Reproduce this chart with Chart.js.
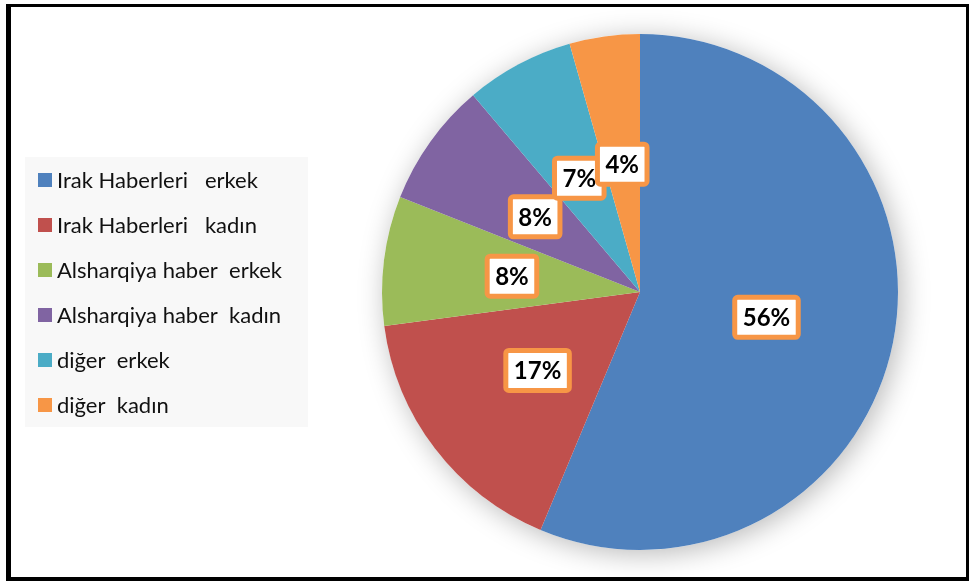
<!DOCTYPE html>
<html>
<head>
<meta charset="utf-8">
<script src="https://cdn.jsdelivr.net/npm/chart.js@4.4.1/dist/chart.umd.min.js"></script>
<style>
    html, body { margin: 0; padding: 0; background: #fff; }
    #wrap { position: relative; width: 969px; height: 581px; }
    #chart { position: absolute; left: 0; top: 0; }
    #frame {
        position: absolute; left: 6px; top: 4px; width: 963px; height: 577px;
        box-sizing: border-box; border-style: solid; border-color: #000;
        border-width: 3px 3px 4px 5px; pointer-events: none;
    }
</style>
</head>
<body>
<div id="wrap">
    <canvas id="chart" width="969" height="581"></canvas>
    <div id="frame"></div>
</div>
<script>
const categories = [
    'Irak Haberleri   erkek',
    'Irak Haberleri   kadın',
    'Alsharqiya haber  erkek',
    'Alsharqiya haber  kadın',
    'diğer  erkek',
    'diğer  kadın'
];
const shares = [56.3, 16.6, 8.1, 7.8, 6.8, 4.4];
const sliceColors = ['#4F81BD', '#C0504D', '#9BBB59', '#8064A2', '#4BACC6', '#F79646'];

// soft shadow under the pie
const pieShadow = {
    id: 'pieShadow',
    beforeDatasetsDraw(chart) {
        const arc = chart.getDatasetMeta(0).data[0];
        if (!arc) return;
        const ctx = chart.ctx;
        ctx.save();
        ctx.shadowColor = 'rgba(0,0,0,0.28)';
        ctx.shadowBlur = 28;
        ctx.shadowOffsetX = 4;
        ctx.shadowOffsetY = 4;
        ctx.beginPath();
        ctx.arc(arc.x, arc.y, arc.outerRadius, 0, Math.PI * 2);
        ctx.fillStyle = '#fff';
        ctx.fill();
        ctx.restore();
    }
};

// percent labels in orange framed boxes
const boxLabels = {
    id: 'boxLabels',
    afterDatasetsDraw(chart) {
        const ctx = chart.ctx;
        const data = chart.data.datasets[0].data;
        const total = data.reduce((a, b) => a + b, 0);
        ctx.save();
        ctx.font = 'bold 24px Lato';
        ctx.textAlign = 'center';
        ctx.textBaseline = 'middle';
        chart.getDatasetMeta(0).data.forEach((arc, i) => {
            const pos = arc.tooltipPosition(true);
            const text = Math.round(data[i] / total * 100) + '%';
            const w = ctx.measureText(text).width + 21;
            const h = 45;
            const x = pos.x - w / 2;
            const y = pos.y - h / 2;
            ctx.beginPath();
            ctx.roundRect(x + 2.5, y + 2.5, w - 5, h - 5, 3);
            ctx.fillStyle = '#fff';
            ctx.fill();
            ctx.lineWidth = 5;
            ctx.strokeStyle = '#F79646';
            ctx.stroke();
            ctx.fillStyle = '#000';
            ctx.fillText(text, pos.x, pos.y + 1);
        });
        ctx.restore();
    }
};

// legend panel on the left
const sideLegend = {
    id: 'sideLegend',
    afterDraw(chart) {
        const ctx = chart.ctx;
        const names = chart.data.labels;
        const fills = chart.data.datasets[0].backgroundColor;
        ctx.save();
        ctx.fillStyle = '#f8f8f8';
        ctx.fillRect(25, 157, 283, 270);
        ctx.font = '22px Lato';
        ctx.textBaseline = 'middle';
        names.forEach((name, i) => {
            const cy = 180 + i * 45;
            ctx.fillStyle = fills[i];
            ctx.fillRect(38, cy - 7, 14, 14);
            ctx.fillStyle = '#111';
            ctx.fillText(name, 57, cy + 1);
        });
        ctx.restore();
    }
};

document.addEventListener('DOMContentLoaded', () => {
    const chart = document.querySelector('#chart').getContext('2d');
    new Chart(chart, {
        type: 'pie',
        data: {
            labels: categories,
            datasets: [{
                data: shares,
                backgroundColor: sliceColors,
                borderWidth: 0
            }]
        },
        options: {
            responsive: false,
            animation: false,
            layout: {
                padding: { left: 382, right: 71, top: 34, bottom: 31 }
            },
            plugins: {
                legend: { display: false },
                tooltip: { enabled: false }
            }
        },
        plugins: [pieShadow, boxLabels, sideLegend]
    });
});
</script>
</body>
</html>
